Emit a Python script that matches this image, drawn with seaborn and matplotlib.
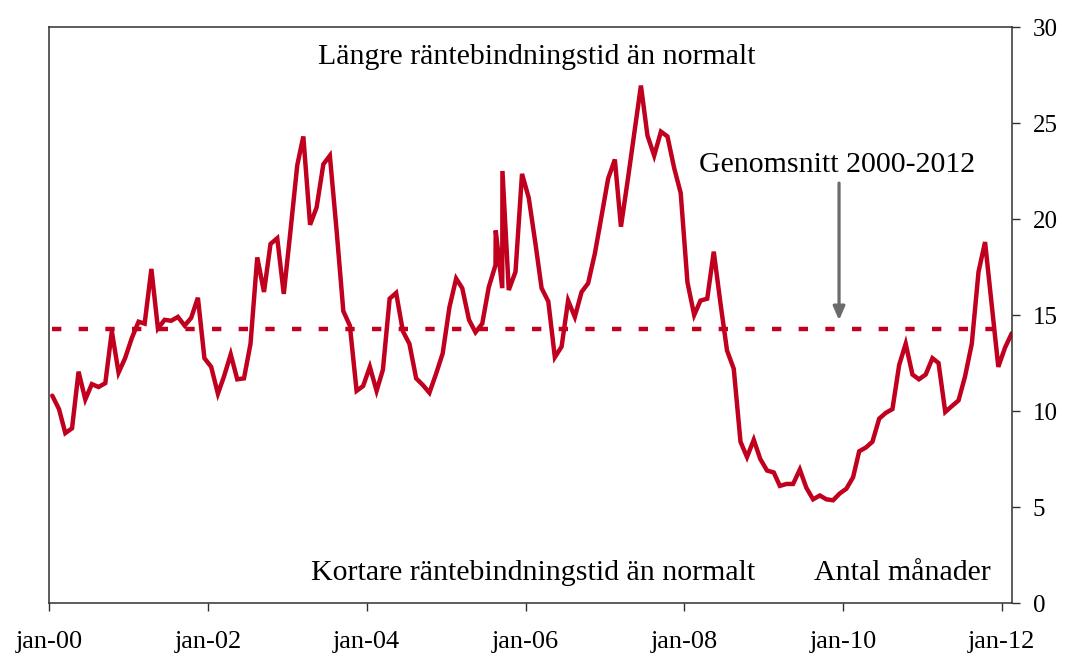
import numpy as np
import pandas as pd
import matplotlib
matplotlib.use("Agg")
import matplotlib.pyplot as plt
import seaborn as sns

# ---- data -------------------------------------------------------------
start_month = "2000-01-01"
rate = [
    10.8, 10.1, 8.85, 9.1, 12.05, 10.6, 11.4, 11.25, 11.45, 14.15, 12.0, 12.75,
    13.8, 14.65, 14.55, 17.4, 14.3, 14.75, 14.7, 14.9, 14.45, 14.85, 15.9, 12.75,
    12.3, 10.9, 11.8, 12.95, 11.65, 11.7, 13.5, 18.0, 16.2, 18.7, 19.0, 16.1,
    19.4, 22.8, 24.3, 19.7, 20.6, 22.85, 23.3, 19.4, 15.2, 14.45, 11.05, 11.3,
    12.3, 11.05, 12.15, 15.85, 16.15, 14.15, 13.5, 11.7, 11.35, 10.95, 11.95, 13.0,
    15.4, 16.9, 16.4, 14.75, 14.1, 14.55, 16.45, 17.6, 16.4, 16.3, 17.25, 22.35,
    21.1, 18.7, 16.4, 15.7, 12.8, 13.35, 15.75, 14.9, 16.2, 16.65, 18.2, 20.1,
    22.1, 23.1, 19.6, 22.0, 24.45, 26.95, 24.35, 23.3, 24.55, 24.3, 22.65, 21.35,
    16.7, 15.0, 15.75, 15.85, 18.3, 15.6, 13.15, 12.2, 8.4, 7.6, 8.5, 7.5,
    6.9, 6.8, 6.1, 6.2, 6.2, 6.95, 6.0, 5.4, 5.6, 5.4, 5.35, 5.7,
    5.95, 6.55, 7.9, 8.1, 8.4, 9.6, 9.9, 10.1, 12.4, 13.5, 11.9, 11.65,
    11.9, 12.75, 12.5, 9.95, 10.25, 10.55, 11.8, 13.5, 17.25, 18.8, 15.5, 12.3,
    13.3, 14.05,
]
# extra intra-month observations (spikes in 2005)
spike_dates = ["2005-08-17", "2005-09-17"]
spike_vals = [19.4, 22.5]

average_2000_2012 = 14.25

tick_years = [2000, 2002, 2004, 2006, 2008, 2010, 2012]
tick_labels = ["jan-00", "jan-02", "jan-04", "jan-06", "jan-08", "jan-10", "jan-12"]
y_ticks = [0, 5, 10, 15, 20, 25, 30]

label_top = "Längre räntebindningstid än normalt"
label_bottom = "Kortare räntebindningstid än normalt"
label_avg = "Genomsnitt 2000-2012"
label_unit = "Antal månader"

# ---- build frame ---------------------------------------------------------
dates = pd.date_range(start_month, periods=len(rate), freq="MS") + pd.Timedelta(days=15)
df = pd.DataFrame({"date": dates, "value": rate})
df = pd.concat([df, pd.DataFrame({"date": pd.to_datetime(spike_dates), "value": spike_vals})])
df = df.sort_values("date").reset_index(drop=True)

mean_df = pd.DataFrame({"date": [df["date"].iloc[0], df["date"].iloc[-1]],
                        "value": [average_2000_2012, average_2000_2012]})

# ---- style -----------------------------------------------------------------
sns.set_style("white")
plt.rcParams["font.family"] = ["Liberation Serif", "DejaVu Serif"]
plt.rcParams["text.color"] = "black"
plt.rcParams["xtick.color"] = "black"
plt.rcParams["ytick.color"] = "black"

RED = "#C0001E"
GRAY = "#6B6B6B"

fig = plt.figure(figsize=(10.67, 6.55), dpi=100)
ax = fig.add_axes([49 / 1067, 1 - 603 / 655, (1012 - 49) / 1067, (603 - 27) / 655])

sns.lineplot(data=df, x="date", y="value", ax=ax, color=RED, linewidth=3.2,
             estimator=None, sort=False, legend=False)
ax.lines[-1].set_solid_joinstyle("miter")
sns.lineplot(data=mean_df, x="date", y="value", ax=ax, color=RED, linewidth=3.2,
             estimator=None, legend=False)
ax.lines[-1].set_linestyle((0, (2.1, 3.9)))
ax.lines[-1].set_dash_capstyle("butt")

ax.set_ylim(0, 30)
ax.set_xlim(pd.Timestamp("2000-01-01"), pd.Timestamp("2012-02-17"))
ax.set_xlabel("")
ax.set_ylabel("")

ax.set_xticks([pd.Timestamp(f"{y}-01-01") for y in tick_years])
ax.set_xticklabels(tick_labels, fontsize=19)
ax.set_yticks(y_ticks)
ax.set_yticklabels([str(v) for v in y_ticks], fontsize=18)
ax.yaxis.tick_right()
ax.tick_params(axis="y", direction="out", length=6, width=1, color="#303030",
               labelcolor="black", pad=9, right=True, left=False)
ax.tick_params(axis="x", direction="out", length=6, width=1, color="#303030",
               labelcolor="black", pad=14, bottom=True)

for s in ax.spines.values():
    s.set_visible(True)
    s.set_color("#303030")
    s.set_linewidth(1.1)

ax.text(0.507, 0.936, label_top, transform=ax.transAxes, ha="center", va="baseline",
        fontsize=21.5, color="black")
ax.text(0.503, 0.040, label_bottom, transform=ax.transAxes, ha="center", va="baseline",
        fontsize=21.5, color="black")
ax.text(0.818, 0.748, label_avg, transform=ax.transAxes, ha="center", va="baseline",
        fontsize=21.5, color="black")
ax.text(0.886, 0.040, label_unit, transform=ax.transAxes, ha="center", va="baseline",
        fontsize=21.5, color="black")

ax.annotate("", xy=(0.8204, 0.491), xytext=(0.8204, 0.729),
            xycoords="axes fraction", textcoords="axes fraction",
            arrowprops=dict(arrowstyle="-|>,head_length=0.8,head_width=0.35",
                            color=GRAY, lw=2.3, shrinkA=0, shrinkB=0))

fig.savefig("out.png", dpi=100)
